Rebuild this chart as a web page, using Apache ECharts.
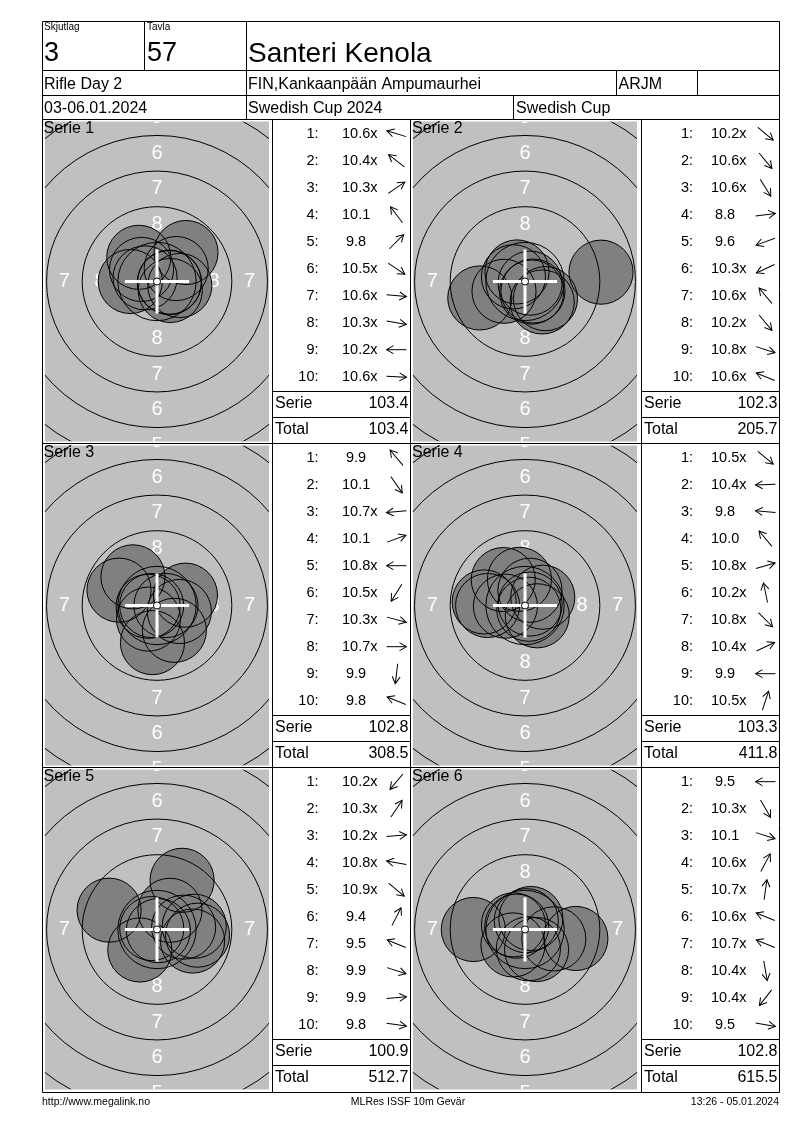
<!DOCTYPE html>
<html><head><meta charset="utf-8">
<script src="https://cdn.jsdelivr.net/npm/echarts@6/dist/echarts.min.js"></script>
<style>html,body{margin:0;padding:0;background:#fff}#c{width:800px;height:1130px}</style>
</head><body><div id="c"></div><script>
// ---------------- data ----------------
const relayLabel = 'Skjutlag';
const relayNo = '3';
const targetLabel = 'Tavla';
const targetNo = '57';
const shooterName = 'Santeri Kenola';
const eventName = 'Rifle Day 2';
const clubName = 'FIN,Kankaanpään Ampumaurhei';
const classCode = 'ARJM';
const dateText = '03-06.01.2024';
const competitionName = 'Swedish Cup 2024';
const cupName = 'Swedish Cup';
const footerLeft = 'http://www.megalink.no';
const footerMid = 'MLRes ISSF 10m Gevär';
const footerRight = '13:26 - 05.01.2024';

const serieNames = ['Serie 1', 'Serie 2', 'Serie 3', 'Serie 4', 'Serie 5', 'Serie 6'];
// decimal scores per shot
const scores1 = [10.6, 10.4, 10.3, 10.1, 9.8, 10.5, 10.6, 10.3, 10.2, 10.6];
const scores2 = [10.2, 10.6, 10.6, 8.8, 9.6, 10.3, 10.6, 10.2, 10.8, 10.6];
const scores3 = [9.9, 10.1, 10.7, 10.1, 10.8, 10.5, 10.3, 10.7, 9.9, 9.8];
const scores4 = [10.5, 10.4, 9.8, 10.0, 10.8, 10.2, 10.8, 10.4, 9.9, 10.5];
const scores5 = [10.2, 10.3, 10.2, 10.8, 10.9, 9.4, 9.5, 9.9, 9.9, 9.8];
const scores6 = [9.5, 10.3, 10.1, 10.6, 10.7, 10.6, 10.7, 10.4, 10.4, 9.5];
// shot direction from the target centre, degrees (0 = right, 90 = up), read from the arrows
const angles1 = [163, 142, 34, 127, 45, -34, -5, -10, 180, -3];
const angles2 = [-40, -50, -58, 7, 200, 205, 130, -50, -18, 158];
const angles3 = [130, -55, 185, 20, 180, 238, -15, 0, 263, 158];
const angles4 = [-40, 182, 175, 130, 16, 102, -45, 25, 180, 72];
const angles5 = [230, 56, 5, 170, -40, 63, 158, -18, 5, -8];
const angles6 = [180, -60, -18, 62, 82, 158, 158, 280, 232, -10];
const serieSums = ['103.4', '102.3', '102.8', '103.3', '100.9', '102.8'];
const runningTotals = ['103.4', '205.7', '308.5', '411.8', '512.7', '615.5'];

// ISSF 10m air rifle target geometry (mm)
const ringRadii = [0.25, 2.75, 5.25, 7.75, 10.25, 12.75, 15.25];
const ringLabels = ['8', '7', '6', '5', '4'];
const ringLabelRadii = [4.0, 6.5, 9.0, 11.5, 14.0];
const pelletRadius = 2.25;

// ---------------- layout ----------------
const FONT = '"Liberation Sans", Arial, sans-serif';
const S = 14.25;                 // px per mm
const TW = 224, TH = 320;        // target picture size
const colTargetLeft = [45, 413];
const rowTop = [119.5, 443.5, 767.5];
const colTableLeft = [272.5, 641.5];
const colTableRight = [410.5, 779.5];
const colNumRight = [318.5, 693];
const colScoreLeft = [342, 711];
const colArrowX = [396.5, 765.5];

const allScores = [scores1, scores2, scores3, scores4, scores5, scores6];
const allAngles = [angles1, angles2, angles3, angles4, angles5, angles6];

// centre distance (mm) of a decimal score
function shotDistance(s) { return 2.5 * (11 - s) - 0.125; }
function fmtScore(s) { return (s < 10 ? ' ' : '') + s.toFixed(1) + (s >= 10.2 ? 'x' : ''); }

const grids = [], xAxes = [], yAxes = [], series = [];
const labelData = [], labelText = [];
const dirs = [[0, 1], [0, -1], [-1, 0], [1, 0]];
ringLabels.forEach((t, k) => dirs.forEach(d => {
  labelData.push([d[0] * ringLabelRadii[k], d[1] * ringLabelRadii[k]]);
  labelText.push(t);
}));

function clipRect(params) {
  const c = params.coordSys;
  return { type: 'rect', shape: { x: c.x, y: c.y, width: c.width, height: c.height } };
}

for (let i = 0; i < 6; i++) {
  const col = i % 2, row = Math.floor(i / 2);
  grids.push({
    left: colTargetLeft[col], top: rowTop[row] + 2, width: TW, height: TH,
    show: true, backgroundColor: '#c0c0c0', borderWidth: 0
  });
  xAxes.push({ gridIndex: i, type: 'value', min: -TW / 2 / S, max: TW / 2 / S, show: false });
  yAxes.push({ gridIndex: i, type: 'value', min: -TH / 2 / S, max: TH / 2 / S, show: false });

  const shots = allScores[i].map((s, k) => {
    const d = shotDistance(s), a = allAngles[i][k] * Math.PI / 180;
    return [d * Math.cos(a), d * Math.sin(a)];
  });

  // ring numbers
  series.push({
    type: 'custom', xAxisIndex: i, yAxisIndex: i, z: 2, clip: true, silent: true,
    data: labelData,
    renderItem: function (params, api) {
      const p = api.coord([api.value(0), api.value(1)]);
      return {
        type: 'group', clipPath: clipRect(params), children: [{
          type: 'text', x: p[0], y: p[1],
          style: { text: labelText[params.dataIndex], fill: '#ffffff', font: '20px ' + FONT, align: 'center', verticalAlign: 'middle' }
        }]
      };
    }
  });
  // shot fills
  series.push({
    type: 'custom', xAxisIndex: i, yAxisIndex: i, z: 3, clip: true, silent: true,
    data: shots,
    renderItem: function (params, api) {
      const p = api.coord([api.value(0), api.value(1)]);
      const r = api.size([pelletRadius, 0])[0];
      return { type: 'group', clipPath: clipRect(params), children: [{
        type: 'circle', shape: { cx: p[0], cy: p[1], r: r }, style: { fill: '#808080', stroke: null }
      }] };
    }
  });
  // ring lines (10 ring dot drawn with the cross)
  series.push({
    type: 'custom', xAxisIndex: i, yAxisIndex: i, z: 4, clip: true, silent: true,
    data: ringRadii.slice(1).map(r => [r, 0]),
    renderItem: function (params, api) {
      const c = api.coord([0, 0]);
      const r = api.size([api.value(0), 0])[0];
      return { type: 'group', clipPath: clipRect(params), children: [{
        type: 'circle', shape: { cx: c[0], cy: c[1], r: r }, style: { fill: null, stroke: '#000', lineWidth: 1 }
      }] };
    }
  });
  // shot outlines
  series.push({
    type: 'custom', xAxisIndex: i, yAxisIndex: i, z: 5, clip: true, silent: true,
    data: shots,
    renderItem: function (params, api) {
      const p = api.coord([api.value(0), api.value(1)]);
      const r = api.size([pelletRadius, 0])[0];
      return { type: 'group', clipPath: clipRect(params), children: [{
        type: 'circle', shape: { cx: p[0], cy: p[1], r: r }, style: { fill: null, stroke: '#000', lineWidth: 1 }
      }] };
    }
  });
  // centre cross + 10 ring
  series.push({
    type: 'custom', xAxisIndex: i, yAxisIndex: i, z: 6, clip: true, silent: true,
    data: [[0, 0]],
    renderItem: function (params, api) {
      const c = api.coord([api.value(0), api.value(1)]);
      const L = api.size([pelletRadius, 0])[0];
      const r10 = api.size([ringRadii[0], 0])[0];
      return { type: 'group', children: [
        { type: 'line', shape: { x1: c[0] - L, y1: c[1], x2: c[0] + L, y2: c[1] }, style: { stroke: '#fff', lineWidth: 3 } },
        { type: 'line', shape: { x1: c[0], y1: c[1] - L, x2: c[0], y2: c[1] + L }, style: { stroke: '#fff', lineWidth: 3 } },
        { type: 'circle', shape: { cx: c[0], cy: c[1], r: r10 }, style: { fill: '#fff', stroke: '#000', lineWidth: 1 } }
      ] };
    }
  });
}

// ---------------- table graphics ----------------
const G = [];
function line(x1, y1, x2, y2) { G.push({ type: 'line', z: 50, silent: true, shape: { x1, y1, x2, y2 }, style: { stroke: '#000', lineWidth: 1 } }); }
function txt(t, x, y, size, align, color) {
  G.push({ type: 'text', z: 60, silent: true, x: x, y: y,
    style: { text: t, font: size + 'px ' + FONT, fill: color || '#000', align: align || 'left', verticalAlign: 'middle' } });
}
const XL = 42.5, XR = 779.5, YT = 21.5, Y1 = 70.5, Y2 = 95.5, Y3 = rowTop[0], YB = 1092.5;
[YT, Y1, Y2, Y3, rowTop[1], rowTop[2], YB].forEach(y => line(XL, y, XR, y));
line(XL, YT, XL, YB); line(XR, YT, XR, YB);
line(144.5, YT, 144.5, Y1);
line(246.5, YT, 246.5, Y3);
line(616.5, Y1, 616.5, Y2); line(697.5, Y1, 697.5, Y2);
line(513.5, Y2, 513.5, Y3);
[colTableLeft[0], colTableRight[0], colTableLeft[1]].forEach(x => line(x, Y3, x, YB));

txt(relayLabel, 44, 27.5, 10);
txt(targetLabel, 147, 27.5, 10);
txt(relayNo, 44, 54, 27);
txt(targetNo, 147, 54, 27);
txt(shooterName, 248, 54, 28);
txt(eventName, 44, 84.5, 16);
txt(clubName, 248, 84.5, 16);
txt(classCode, 618.5, 84.5, 16);
txt(dateText, 44, 108.5, 16);
txt(competitionName, 248, 108.5, 16);
txt(cupName, 516, 108.5, 16);

function arrow(x, y, deg) {
  G.push({ type: 'group', z: 60, silent: true, x: x, y: y, rotation: deg * Math.PI / 180, children: [
    { type: 'line', shape: { x1: -10, y1: 0, x2: 10, y2: 0 }, style: { stroke: '#000', lineWidth: 1 } },
    { type: 'polyline', shape: { points: [[3, -4], [10, 0], [3, 4]] }, style: { stroke: '#000', fill: null, lineWidth: 1 } }
  ] });
}

for (let i = 0; i < 6; i++) {
  const col = i % 2, row = Math.floor(i / 2), T = rowTop[row];
  txt(serieNames[i], col === 0 ? 43.5 : 412, T + 9.5, 16);
  allScores[i].forEach((s, k) => {
    const y = T + 14.2 + 27 * k;
    txt((k + 1) + ':', colNumRight[col], y, 14.5, 'right');
    txt(fmtScore(s), colScoreLeft[col], y, 14.5, 'left');
    arrow(colArrowX[col], y, allAngles[i][k]);
  });
  line(colTableLeft[col], T + 272, colTableRight[col], T + 272);
  line(colTableLeft[col], T + 298, colTableRight[col], T + 298);
  txt('Serie', colTableLeft[col] + 2.5, T + 284.5, 16);
  txt(serieSums[i], colTableRight[col] - 2, T + 284.5, 16, 'right');
  txt('Total', colTableLeft[col] + 2.5, T + 310.5, 16);
  txt(runningTotals[i], colTableRight[col] - 2, T + 310.5, 16, 'right');
}
txt(footerLeft, 42, 1102, 10.5);
txt(footerMid, 408, 1102, 10.5, 'center');
txt(footerRight, 779, 1102, 10.5, 'right');

const chart = echarts.init(document.getElementById('c'), null, { renderer: 'canvas' });
chart.setOption({
  animation: false,
  backgroundColor: '#ffffff',
  grid: grids, xAxis: xAxes, yAxis: yAxes, series: series,
  graphic: { elements: G }
});
</script></body></html>
